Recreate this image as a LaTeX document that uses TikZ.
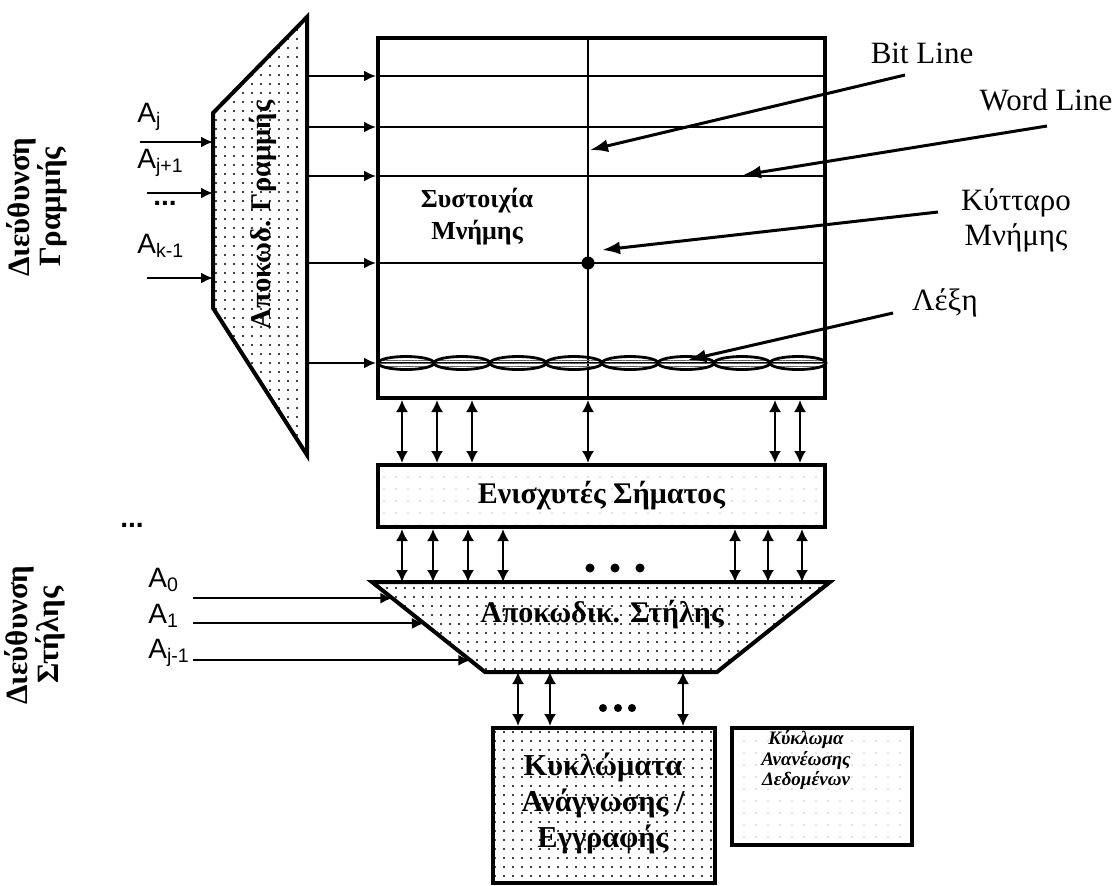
\documentclass[tikz,border=0pt]{standalone}
\usepackage{fontspec}
\setmainfont{Liberation Serif}
\newfontfamily\arialfont{Liberation Sans}
\usetikzlibrary{arrows.meta,patterns.meta,calc}
\begin{document}
\begin{tikzpicture}[x=0.5pt,y=-0.5pt,
  outl/.style={draw, line width=2pt},
  wire/.style={line width=1pt},
  sarr/.style={line width=1pt, -{Latex[length=6pt,width=5.5pt]}},
  bidir/.style={line width=1pt, {Latex[length=6pt,width=6pt]}-{Latex[length=6pt,width=6pt]}},
  ptr/.style={line width=1.5pt, -{Latex[length=9pt,width=6.5pt]}},
  dense/.style={pattern={Dots[distance=4.5pt,radius=.6pt]}},
  sparse/.style={pattern={Dots[distance=6pt,radius=.35pt]}, pattern color=black!45},
  addr/.style={font=\arialfont\fontsize{14}{14}\selectfont, anchor=base west, inner sep=0pt},
  lbl/.style={font=\fontsize{15.5}{17.5}\selectfont, align=center, inner sep=0pt},
  bdot/.style={circle, fill, inner sep=0pt, minimum size=4pt}]
\useasboundingbox (0,0) rectangle (1119,885);
\node[outl, minimum width=223.5pt, minimum height=180pt] (array) at (601.5,218){};
\draw[outl, dense] (213,113) coordinate (rdtl) -- (307,17) coordinate (rdtr) -- (307,455) coordinate (rdbr) -- (213,308) coordinate (rdbl) -- cycle;
\node[rotate=90, font=\bfseries\fontsize{14.3}{14.3}\selectfont] (rdlbl) at (263,215){Αποκωδ. Γραμμής};
\foreach \y in {76,127,176,263,363}{
  \draw[sarr] (rdtr |- 0,\y) -- (array.west |- 0,\y);
  \draw[wire] (array.west |- 0,\y) -- (array.east |- 0,\y);
}
\draw[wire] (588,0 |- array.north) -- (588,0 |- array.south);
\foreach \i in {0,...,7}
  \draw[line width=1.4pt, pattern={Lines[distance=1.6pt,angle=0,line width=.5pt]}, pattern color=black!60] (406+56*\i,363) ellipse [x radius=28, y radius=6.5];
\node[bdot, minimum size=6.5pt] (cell) at (588,263){};
\node[lbl, font=\bfseries\fontsize{13}{16}\selectfont] (arrlbl) at (477,217){Συστοιχία\\Μνήμης};
\node[lbl] (bitlbl) at (922,53){Bit Line};
\node[lbl] (wordlbl) at (1046,100){Word Line};
\node[lbl] (celllbl) at (1016,220){Κύτταρο\\Μνήμης};
\node[lbl] (wlbl) at (945,303){Λέξη};
\coordinate (bitsrc) at (905,75);
\coordinate (bittip) at (590,150);
\coordinate (wordsrc) at (1047,126);
\coordinate (wordtip) at (743,175);
\coordinate (cellsrc) at (938,212);
\coordinate (celltip) at (602,250);
\coordinate (wsrc) at (893,313);
\coordinate (wtip) at (688,360);
\draw[ptr] (bitsrc) -- (bittip);
\draw[ptr] (wordsrc) -- (wordtip);
\draw[ptr] (cellsrc) -- (celltip);
\draw[ptr] (wsrc) -- (wtip);
\node[lbl, rotate=90, font=\bfseries\fontsize{15.5}{15.5}\selectfont] (rowaddr) at (37,207){Διεύθυνση\\Γραμμής};
\node[addr] (aj) at (137,122){A\textsubscript{j}};
\node[addr] (aj1) at (137,168){A\textsubscript{j+1}};
\node[addr, font=\arialfont\bfseries\fontsize{14}{14}\selectfont] (rdots) at (153,205){...};
\node[addr] (ak1) at (137,253){A\textsubscript{k-1}};
\draw[sarr] (140,142) -- (rdtl |- 0,142);
\draw[sarr] (147,193) -- (rdtl |- 0,193);
\draw[sarr] (147,278) -- (rdtl |- 0,278);
\node[outl, sparse, minimum width=223.5pt, minimum height=31pt, font=\bfseries\fontsize{15}{15}\selectfont] (amps) at (601.5,496){Ενισχυτές Σήματος};
\foreach \x in {402,437,472,588,775,800}
  \draw[bidir] (\x,0 |- array.south) -- (\x,0 |- amps.north);
\draw[outl, dense] (372,582) coordinate (cdtl) -- (830,582) coordinate (cdtr) -- (717,672) coordinate (cdbr) -- (485,672) coordinate (cdbl) -- cycle;
\node[font=\bfseries\fontsize{15}{15}\selectfont] (cdlbl) at (602,615){Αποκωδικ. Στήλης};
\foreach \x in {402,433,468,503,735,768,802}
  \draw[bidir] (\x,0 |- amps.south) -- (\x,0 |- cdtl);
\foreach \x [count=\i] in {590,615,640}
  \node[bdot, minimum size=4.5pt] (gap\i) at (\x,568){};
\node[lbl, rotate=90, font=\bfseries\fontsize{15.5}{15.5}\selectfont] (coladdr) at (35,635){Διεύθυνση\\Στήλης};
\node[addr, font=\arialfont\bfseries\fontsize{14}{14}\selectfont] (cdots) at (120,527){...};
\node[addr] (a0) at (148,587){A\textsubscript{0}};
\node[addr] (a1) at (148,623){A\textsubscript{1}};
\node[addr] (aj0) at (148,658){A\textsubscript{j-1}};
\foreach \t [count=\i] in {0.18,0.46,0.87}{
  \coordinate (cin\i) at ($(cdtl)!\t!(cdbl)$);
  \draw[sarr] (193,0 |- cin\i) -- (cin\i);
}
\node[outl, dense, minimum width=111pt, minimum height=77.5pt] (rw) at (604,805.5){};
\node[lbl, font=\bfseries\fontsize{15.2}{18}\selectfont] (rwlbl) at (603,803){Κυκλώματα\\Ανάγνωσης /\\Εγγραφής};
\foreach \x in {518,550,683}
  \draw[bidir] (\x,0 |- cdbl) -- (\x,0 |- rw.north);
\foreach \x [count=\i] in {603,618,632}
  \node[bdot, minimum size=4pt] (low\i) at (\x,708){};
\node[outl, sparse, minimum width=90pt, minimum height=58.5pt] (refresh) at (822,786.5){};
\node[lbl, font=\bfseries\itshape\fontsize{9.5}{7.8}\selectfont] (reflbl) at (806,760){Κύκλωμα\\Ανανέωσης\\Δεδομένων};
\end{tikzpicture}
\end{document}
